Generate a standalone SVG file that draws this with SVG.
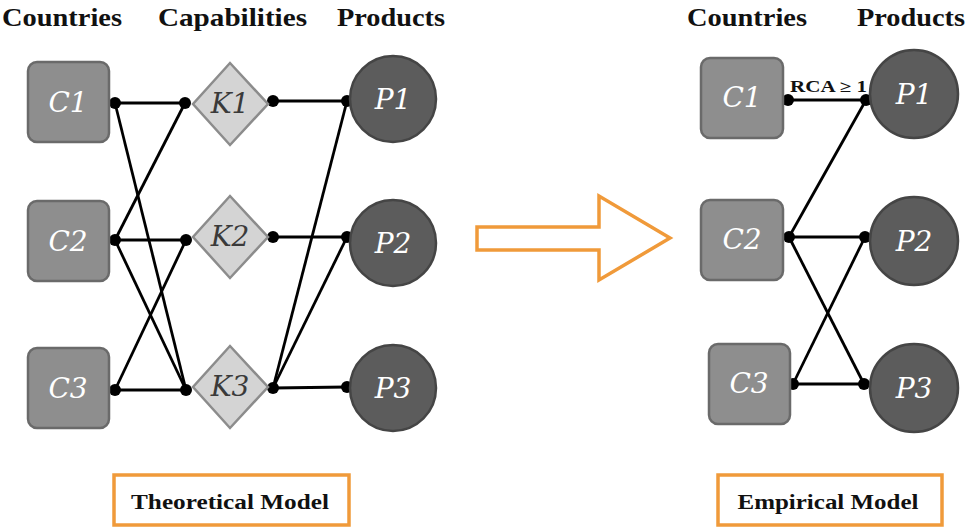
<svg xmlns="http://www.w3.org/2000/svg" width="967" height="527" viewBox="0 0 967 527">
<style>
.hdr{font-family:"Liberation Serif","DejaVu Serif",serif;font-weight:bold;font-size:25px;fill:#111}
.country rect{fill:#8e8e8e;stroke:#6a6a6a;stroke-width:2.5}
.cap polygon{fill:#d4d4d4;stroke:#8c8c8c;stroke-width:2.5}
.prod circle{fill:#5c5c5c;stroke:#454545;stroke-width:2.5}
.lbl{font-family:"DejaVu Serif",serif;font-style:italic;font-size:28px;text-anchor:middle}
.country .lbl,.prod .lbl{fill:#fff}
.cap .lbl{fill:#3a3a3a}
.edges line{stroke:#000;stroke-width:2.8}
.edges circle{fill:#000}
.frame{fill:#fff;stroke:#f09a3a;stroke-width:3.5}
.cap2{font-family:"Liberation Serif","DejaVu Serif",serif;font-weight:bold;font-size:22px;fill:#111;text-anchor:middle}
</style>

<!-- headers -->
<text class="hdr" x="2" y="26" textLength="120" lengthAdjust="spacingAndGlyphs">Countries</text>
<text class="hdr" x="158" y="26" textLength="149" lengthAdjust="spacingAndGlyphs">Capabilities</text>
<text class="hdr" x="337" y="26" textLength="108" lengthAdjust="spacingAndGlyphs">Products</text>
<text class="hdr" x="687" y="26" textLength="120" lengthAdjust="spacingAndGlyphs">Countries</text>
<text class="hdr" x="857" y="26" textLength="108" lengthAdjust="spacingAndGlyphs">Products</text>

<!-- connectors -->
<g id="connectors" class="edges">
  <!-- theoretical: countries - capabilities -->
  <line x1="115" y1="103" x2="185" y2="103"/>
  <line x1="115" y1="103" x2="186" y2="390"/>
  <line x1="115" y1="240" x2="185" y2="103"/>
  <line x1="115" y1="240" x2="186" y2="240"/>
  <line x1="115" y1="240" x2="186" y2="390"/>
  <line x1="115" y1="390" x2="186" y2="240"/>
  <line x1="115" y1="390" x2="186" y2="390"/>
  <!-- capabilities - products -->
  <line x1="273" y1="101" x2="347" y2="101"/>
  <line x1="273" y1="237" x2="347" y2="237"/>
  <line x1="273" y1="388" x2="347" y2="101"/>
  <line x1="273" y1="388" x2="347" y2="237"/>
  <line x1="273" y1="388" x2="347" y2="387"/>
  <!-- empirical -->
  <line x1="788" y1="100" x2="866" y2="100"/>
  <line x1="789" y1="237" x2="866" y2="100"/>
  <line x1="789" y1="237" x2="865" y2="237"/>
  <line x1="789" y1="237" x2="864" y2="384"/>
  <line x1="793" y1="384" x2="865" y2="237"/>
  <line x1="793" y1="384" x2="864" y2="384"/>
  <!-- dots -->
  <circle cx="115" cy="103" r="6"/>
  <circle cx="115" cy="240" r="6"/>
  <circle cx="115" cy="390" r="6"/>
  <circle cx="185" cy="103" r="6"/>
  <circle cx="186" cy="240" r="6"/>
  <circle cx="186" cy="390" r="6"/>
  <circle cx="273" cy="101" r="6"/>
  <circle cx="273" cy="237" r="6"/>
  <circle cx="273" cy="388" r="6"/>
  <circle cx="347" cy="101" r="6"/>
  <circle cx="347" cy="237" r="6"/>
  <circle cx="347" cy="387" r="6"/>
  <circle cx="788" cy="100" r="6"/>
  <circle cx="866" cy="100" r="6"/>
  <circle cx="789" cy="237" r="6"/>
  <circle cx="865" cy="237" r="6"/>
  <circle cx="793" cy="384" r="6"/>
  <circle cx="864" cy="384" r="6"/>
  <text x="790" y="92" font-family="Liberation Serif, DejaVu Serif, serif" font-weight="bold" font-size="16" fill="#111" textLength="77" lengthAdjust="spacingAndGlyphs">RCA ≥ 1</text>
</g>

<!-- theoretical nodes -->
<g id="tC1" class="country"><rect x="28" y="62" width="81" height="80" rx="9"/><text class="lbl" x="68" y="112">C1</text></g>
<g id="tC2" class="country"><rect x="28" y="201" width="81" height="80" rx="9"/><text class="lbl" x="68" y="251">C2</text></g>
<g id="tC3" class="country"><rect x="28" y="348" width="81" height="80" rx="9"/><text class="lbl" x="68" y="398">C3</text></g>

<g id="tK1" class="cap"><polygon points="230,63 268,104 230,145 193,104"/><text class="lbl" x="230" y="113">K1</text></g>
<g id="tK2" class="cap"><polygon points="230,196 268,237 230,278 193,237"/><text class="lbl" x="230" y="246">K2</text></g>
<g id="tK3" class="cap"><polygon points="230,346 268,387 230,428 193,387"/><text class="lbl" x="230" y="396">K3</text></g>

<g id="tP1" class="prod"><circle cx="393" cy="99" r="43"/><text class="lbl" x="393" y="109">P1</text></g>
<g id="tP2" class="prod"><circle cx="393" cy="243" r="43"/><text class="lbl" x="393" y="253">P2</text></g>
<g id="tP3" class="prod"><circle cx="393" cy="388" r="43"/><text class="lbl" x="393" y="398">P3</text></g>

<!-- empirical nodes -->
<g id="eC1" class="country"><rect x="701" y="58" width="82" height="80" rx="9"/><text class="lbl" x="742" y="107">C1</text></g>
<g id="eC2" class="country"><rect x="701" y="200" width="82" height="80" rx="9"/><text class="lbl" x="742" y="249">C2</text></g>
<g id="eC3" class="country"><rect x="709" y="344" width="81" height="80" rx="9"/><text class="lbl" x="749" y="393">C3</text></g>

<g id="eP1" class="prod"><circle cx="914" cy="94" r="44"/><text class="lbl" x="914" y="104">P1</text></g>
<g id="eP2" class="prod"><circle cx="914" cy="241" r="44"/><text class="lbl" x="914" y="251">P2</text></g>
<g id="eP3" class="prod"><circle cx="914" cy="388" r="44"/><text class="lbl" x="914" y="398">P3</text></g>

<!-- big arrow -->
<g id="arrow"><polygon class="frame" points="477,227 599,227 599,196 670,238 599,280 599,250 477,250"/></g>

<!-- captions -->
<g id="theoretical"><rect class="frame" x="114" y="475" width="235" height="50"/><text class="cap2" x="230" y="509" textLength="198" lengthAdjust="spacingAndGlyphs">Theoretical Model</text></g>
<g id="empirical"><rect class="frame" x="718" y="475" width="224" height="50"/><text class="cap2" x="828" y="509" textLength="181" lengthAdjust="spacingAndGlyphs">Empirical Model</text></g>
</svg>
